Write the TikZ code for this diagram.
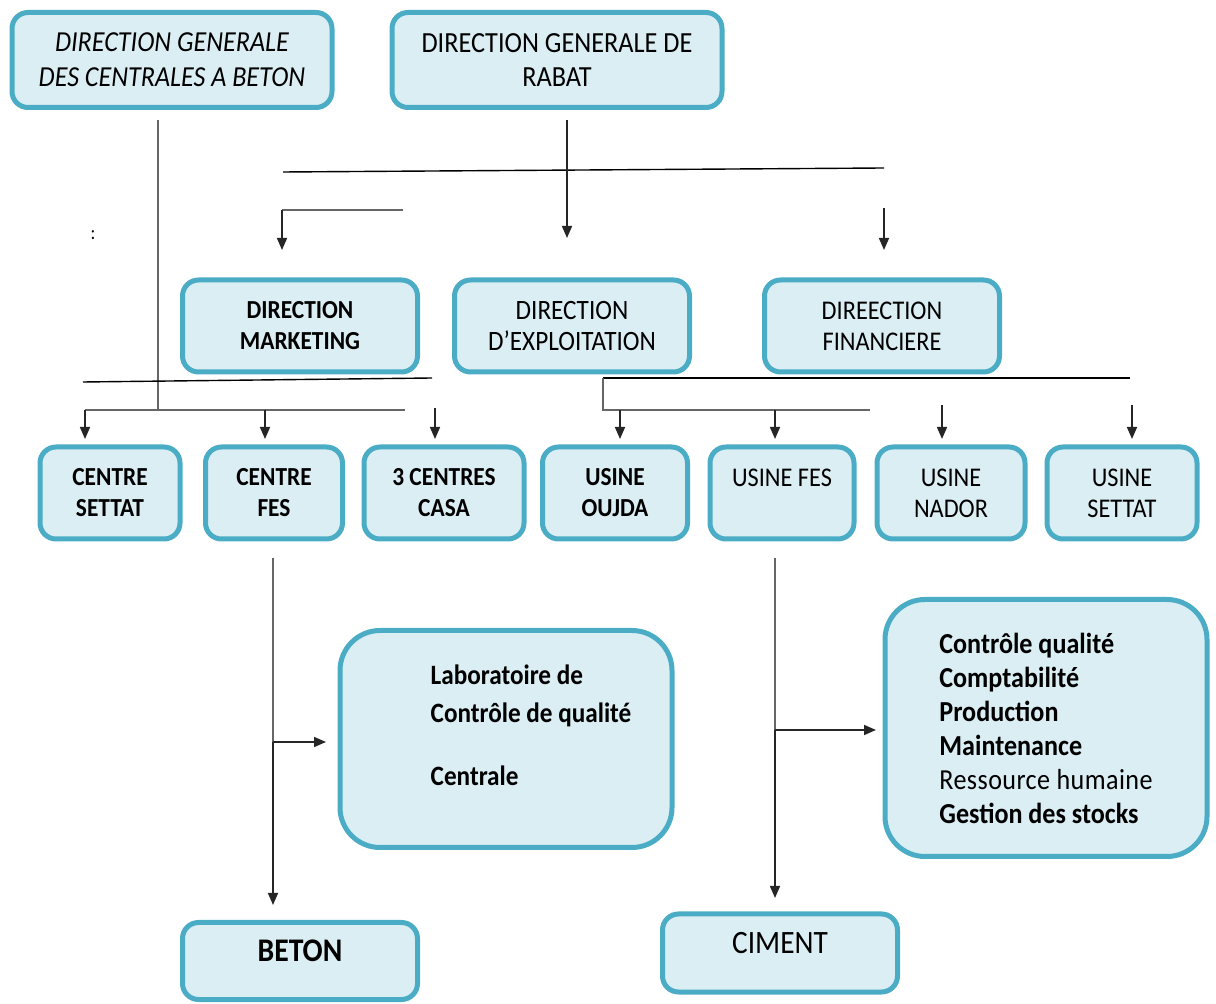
\documentclass[tikz,border=0pt]{standalone}
\usepackage{fontspec}
\setmainfont{Carlito}[FakeStretch=0.9]
\usetikzlibrary{arrows.meta}
\definecolor{bordure}{HTML}{4BACC6}
\definecolor{fond}{HTML}{DAEEF3}

\begin{document}
\begin{tikzpicture}[
        x=0.5pt, y=-0.5pt,
        boite/.style={
            draw=bordure,
            fill=fond,
            line width=2.5pt,
            rounded corners=8pt,
            align=center,
            inner sep=0pt,
            font=\fontsize{13.5}{15.5}\selectfont
        },
        grande/.style={boite, rounded corners=20pt},
        gras/.style={font=\bfseries\fontsize{13}{15.5}\selectfont},
        trait/.style={line width=0.7pt},
        gris/.style={draw=black!60, line width=1.4pt},
        fleche/.style={-{Triangle[length=6pt,width=5pt]}, line width=0.8pt, draw=black!85}
    ]

    \useasboundingbox (0,0) rectangle (1216,1004);

    % Directions
    \node[boite, minimum width=160pt, minimum height=47.5pt, font=\itshape\fontsize{14.5}{17.5}\selectfont] (dgcb) at (172,60) {DIRECTION GENERALE\\DES CENTRALES A BETON};
    \node[boite, minimum width=165pt, minimum height=47.5pt, font=\fontsize{14.6}{17}\selectfont] (dgr) at (557,60) {DIRECTION GENERALE DE\\RABAT};
    \node[boite, gras, minimum width=117.5pt, minimum height=46pt] (dmkt) at (300,326) {DIRECTION\\MARKETING};
    \node[boite, minimum width=117.5pt, minimum height=46pt, font=\fontsize{14}{15.5}\selectfont] (dexp) at (572,326) {DIRECTION\\D’EXPLOITATION};
    \node[boite, minimum width=117.5pt, minimum height=46pt] (dfin) at (882,326) {DIREECTION\\FINANCIERE};

    % Centres et usines
    \node[boite, gras, minimum width=70pt, minimum height=46pt] (cset) at (110,493) {CENTRE\\SETTAT};
    \node[boite, gras, minimum width=68.5pt, minimum height=46pt] (cfes) at (274,493) {CENTRE\\FES};
    \node[boite, gras, minimum width=80pt, minimum height=46pt] (ccasa) at (444,493) {3 CENTRES\\CASA};
    \node[boite, gras, minimum width=72.5pt, minimum height=46pt] (uouj) at (615,493) {USINE\\OUJDA};
    \node[boite, minimum width=72pt, minimum height=46pt] (ufes) at (782,493) {USINE FES\\\mbox{}};
    \node[boite, minimum width=74pt, minimum height=46pt] (unad) at (951,493) {USINE\\NADOR};
    \node[boite, minimum width=75pt, minimum height=46pt] (uset) at (1122,493) {USINE\\SETTAT};

    % Services
    \node[grande, minimum width=166pt, minimum height=108.5pt, font=\bfseries\fontsize{14}{19}\selectfont] (labo) at (506,739)
        {\begin{tabular}{@{\hspace{25pt}}l@{}}Laboratoire de\\Contrôle de qualité\\[12.5pt]Centrale\\[-7pt]\mbox{}\end{tabular}};
    \node[grande, minimum width=161pt, minimum height=128.5pt, align=left, font=\bfseries\fontsize{14.5}{17}\selectfont] (serv) at (1046,728)
        {Contrôle qualité\\Comptabilité\\Production\\Maintenance\\{\mdseries\addfontfeature{LetterSpace=1.5}Ressource humaine}\\Gestion des stocks};

    % Produits
    \node[boite, minimum width=117.5pt, minimum height=38.5pt, text height=11pt, text depth=10pt, font=\bfseries\fontsize{16.5}{17}\selectfont] (beton) at (300,961) {BETON};
    \node[boite, minimum width=117.5pt, minimum height=39pt, text height=11pt, text depth=10pt, font=\fontsize{16.3}{17}\selectfont] (ciment) at (780,953) {CIMENT};

    \node[font=\fontsize{10}{10}\selectfont] (pts) at (93,235) {:};

    % Points de liaison
    \coordinate (a1) at (158,120);
    \coordinate (a2) at (158,410);
    \coordinate (b1) at (567,120);
    \coordinate (b2) at (567,238);
    \coordinate (h1) at (283,172);
    \coordinate (h2) at (884,168);
    \coordinate (f1) at (884,208);
    \coordinate (f2) at (884,250);
    \coordinate (m1) at (403,210);
    \coordinate (m2) at (282,210);
    \coordinate (m3) at (282,250);
    \coordinate (k1) at (83,382);
    \coordinate (k2) at (432,378);
    \coordinate (k3) at (603,378);
    \coordinate (k4) at (1130,378);
    \coordinate (c1) at (85,410);
    \coordinate (c2) at (265,410);
    \coordinate (c3) at (405,410);
    \coordinate (c4) at (435,408);
    \coordinate (u0) at (603,410);
    \coordinate (u1) at (620,410);
    \coordinate (u2) at (775,410);
    \coordinate (u3) at (870,410);
    \coordinate (u4) at (942,405);
    \coordinate (u5) at (1132,405);
    \coordinate (p1) at (273,558);
    \coordinate (p2) at (273,742);
    \coordinate (p3) at (273,905);
    \coordinate (p4) at (326,742);
    \coordinate (q1) at (775,558);
    \coordinate (q2) at (775,730);
    \coordinate (q3) at (775,898);
    \coordinate (q4) at (876,730);

    % Liaisons
    \draw[gris] (a1) -- (a2);
    \draw[trait] (h1) -- (h2);
    \draw[fleche] (b1) -- (b2);
    \draw[fleche] (f1) -- (f2);
    \draw[gris] (m1) -- (m2);
    \draw[fleche] (m2) -- (m3);
    \draw[trait] (k1) -- (k2);
    \draw[trait] (k3) -- (k4);
    \draw[gris] (c1) -- (c3);
    \draw[fleche] (c1) -- ++(0,29);
    \draw[fleche] (c2) -- ++(0,29);
    \draw[fleche] (c4) -- ++(0,31);
    \draw[gris] (k3) -- (u0) -- (u3);
    \draw[fleche] (u1) -- ++(0,29);
    \draw[fleche] (u2) -- ++(0,29);
    \draw[fleche] (u4) -- ++(0,34);
    \draw[fleche] (u5) -- ++(0,34);
    \draw[gris] (p1) -- (p2);
    \draw[fleche] (p2) -- (p3);
    \draw[fleche] (p2) -- (p4);
    \draw[gris] (q1) -- (q2);
    \draw[fleche] (q2) -- (q3);
    \draw[fleche] (q2) -- (q4);

\end{tikzpicture}
\end{document}
